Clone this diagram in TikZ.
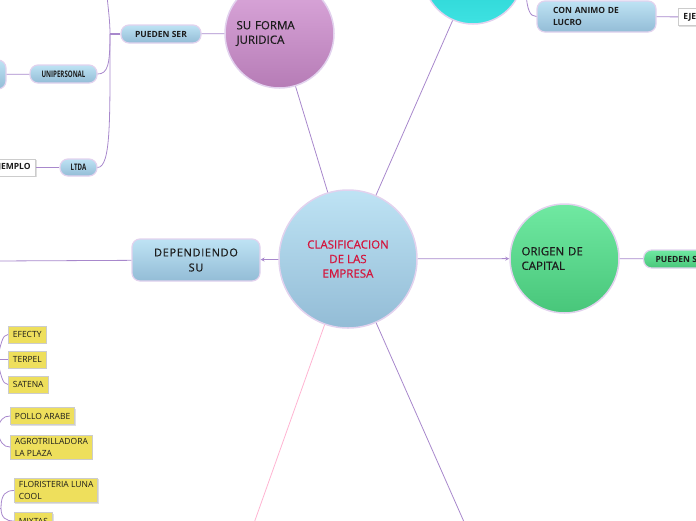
\documentclass[tikz,border=0pt]{standalone}
\usepackage{fontspec}
\setmainfont{Open Sans}
\newfontfamily\narrowfont[FakeStretch=0.68]{Open Sans}
\newfontfamily\anchafont[LetterSpace=6,FakeBold=0.6]{Open Sans}
\newfontfamily\mediafont[FakeBold=0.6]{Open Sans}
\usepackage{tikz}
\usetikzlibrary{arrows,shapes,calc,positioning,shadows}
\definecolor{lila}{HTML}{E2D2EE}
\definecolor{linea}{HTML}{A888CC}
\definecolor{rosa}{HTML}{FFB4D2}
\definecolor{celeste1}{HTML}{BEE3F4}
\definecolor{celeste2}{HTML}{93BCD6}
\definecolor{malva1}{HTML}{DDAADD}
\definecolor{malva2}{HTML}{B67CB6}
\definecolor{turq1}{HTML}{14C6C6}
\definecolor{turq2}{HTML}{3EE2E2}
\definecolor{verde1}{HTML}{70E9A2}
\definecolor{verde2}{HTML}{48C67A}
\definecolor{amarillo}{HTML}{EEDF5C}
\definecolor{rojo}{HTML}{D4143C}
\definecolor{tinta}{HTML}{1C1C1C}
\tikzstyle{circulo}=[circle, draw=lila, line width=1.5pt,
                    inner sep=0pt, text=tinta,
                    font=\mediafont\fontsize{11.5}{14.5}\selectfont]
\tikzstyle{rama}   =[rounded corners=8pt, draw=lila, line width=1.2pt,
                    top color=celeste1, bottom color=celeste2,
                    text=tinta, font=\bfseries\fontsize{8.5}{12}\selectfont]
\tikzstyle{hoja}   =[draw=black!20, line width=.8pt, fill=amarillo,
                    anchor=west, inner xsep=4.5pt, inner ysep=3pt, align=left,
                    minimum height=17pt,
                    drop shadow={shadow xshift=1pt, shadow yshift=-1pt, opacity=.25},
                    text=tinta, font=\fontsize{8.5}{12}\selectfont]
\tikzstyle{ejemplo}=[draw=black!20, fill=white, line width=.8pt,
                    drop shadow={shadow xshift=1pt, shadow yshift=-1pt, opacity=.25},
                    minimum height=17pt, inner xsep=5pt,
                    text=tinta, font=\bfseries\fontsize{8.5}{12}\selectfont]
\tikzstyle{conector}=[draw=linea, line width=.8pt, >=stealth]

\begin{document}
\begin{tikzpicture}[x=1pt, y=-1pt]
    \useasboundingbox (0,0) rectangle (696,520);
    \clip (0,0) rectangle (696,520);

    % circulos
    \node[circulo, minimum size=138pt, top color=celeste1, bottom color=celeste2,
          text=rojo, align=center] (central) at (348,259)
          {CLASIFICACION\\DE LAS\\EMPRESA};
    \node[circulo, minimum size=109pt, top color=malva1, bottom color=malva2,
          text width=86pt, align=left] (forma) at (279.5,33.5) {SU FORMA\\JURIDICA};
    \node[circulo, minimum size=109pt, top color=verde1, bottom color=verde2,
          text width=86pt, align=left] (origen) at (564.5,258.5) {ORIGEN DE\\CAPITAL};
    \node[circulo, minimum size=100pt, top color=turq1, bottom color=turq2] (turq) at (473,-26) {};

    % ramas
    \node[rama, minimum width=128pt, minimum height=42pt, align=center,
          font=\anchafont\fontsize{11}{15}\selectfont] (depend) at (196,260) {DEPENDIENDO\\SU};
    \node[rama, minimum width=80pt, minimum height=18pt] (pueden) at (161,34) {PUEDEN SER};
    \node[rama, text width=87pt, inner xsep=16pt, minimum height=31pt, align=left,
          font=\bfseries\fontsize{8.5}{12}\selectfont] (animo) at (596.5,16.5) {CON ANIMO DE\\LUCRO};
    \node[rama, minimum width=67pt, minimum height=18pt,
          font=\narrowfont\bfseries\fontsize{9}{12}\selectfont] (unip) at (63.5,74) {UNIPERSONAL};
    \node[rama, minimum width=37pt, minimum height=17pt,
          font=\narrowfont\bfseries\fontsize{9}{12}\selectfont] (ltda) at (78.5,167.5) {LTDA};
    \node[rama, minimum width=52pt, minimum height=29pt] (cajaizq) at (-20,74.5) {};
    \node[rama, top color=verde1, bottom color=verde2, anchor=west, inner xsep=12pt,
          minimum height=18pt] (puedenv) at (643,259) {PUEDEN SER};

    % ejemplos
    \node[ejemplo, anchor=east] (ejizq) at (36,167.5) {EJEMPLO};
    \node[ejemplo, anchor=west] (ejder) at (678,17) {EJEMPLO};

    % hojas amarillas
    \foreach \n/\y/\t in {efecty/334.5/EFECTY, terpel/359.5/TERPEL, satena/384.5/SATENA}
        \node[hoja] (\n) at (8,\y) {\t};
    \node[hoja] (pollo) at (10,416) {POLLO ARABE};
    \node[hoja] (agro) at (10,447) {AGROTRILLADORA\\LA PLAZA};
    \node[hoja] (flor) at (14,490.5) {FLORISTERIA LUNA\\COOL};
    \node[hoja] (mixtas) at (14,521) {MIXTAS};

    % puntos sueltos
    \coordinate (izq) at (-5,261);
    \coordinate (abajoizq) at (248,540);
    \coordinate (abajoder) at (472,540);
    \coordinate (lomo) at (110,34);
    \coordinate (lomoalto) at (107,-5);
    \coordinate (cimaA) at (526,-8);
    \coordinate (hubA) at (-3,359.5);
    \coordinate (hubB) at (-3,430);
    \coordinate (hubC) at (1,508);
    \coordinate (hubD) at (-3,508);

    % conectores
    \draw[conector] (central) -- (forma);
    \draw[conector] (central) -- (turq);
    \draw[conector, ->] (central) -- (origen);
    \draw[conector, ->] (central) -- (depend);
    \draw[conector, draw=rosa] (central) -- (abajoizq);
    \draw[conector] (central) -- (abajoder);
    \draw[conector] (depend) -- (izq);
    \draw[conector] (origen) -- (puedenv);
    \draw[conector] (forma) -- (pueden);
    \draw[conector, line width=1.2pt] (pueden) -- (lomo);
    \draw[conector] (lomo) .. controls (110,20) and (108,8) .. (lomoalto);
    \draw[conector] (lomo) .. controls (110,64) and (108,74) .. (unip.east);
    \draw[conector] (lomo) .. controls (110,120) and (111,167) .. (ltda.east);
    \draw[conector] (unip) -- (cajaizq);
    \draw[conector] (ltda) -- (ejizq);
    \draw[conector] (cimaA) .. controls (527,10) and (530,16.5) .. (animo.west);
    \draw[conector] (animo) -- (ejder);

    \draw[conector] (hubA) .. controls (1,345) and (2,334.5) .. (efecty.west);
    \draw[conector] (hubA) -- (terpel.west);
    \draw[conector] (hubA) .. controls (1,374) and (2,384.5) .. (satena.west);
    \draw[conector] (hubB) .. controls (0,420) and (3,416) .. (pollo.west);
    \draw[conector] (hubB) .. controls (0,442) and (3,447) .. (agro.west);
    \draw[conector] (hubC) .. controls (1,494) and (6,490.5) .. (flor.west);
    \draw[conector] (hubC) .. controls (1,518) and (6,521) .. (mixtas.west);
    \draw[conector] (hubD) -- (hubC);
\end{tikzpicture}
\end{document}
